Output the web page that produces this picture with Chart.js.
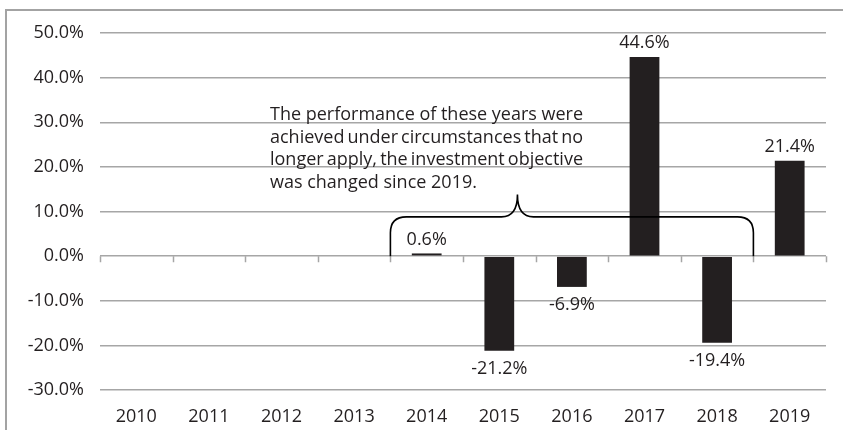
<!DOCTYPE html>
<html>
<head>
<meta charset="utf-8">
<script src="https://cdn.jsdelivr.net/npm/chart.js@4/dist/chart.umd.min.js"></script>
<style>
  html, body { margin: 0; padding: 0; background: #fff; }
  #frame {
    position: absolute; left: 5px; top: 9px; right: 0; bottom: 0;
    border-top: 2px solid #a3a3a3; border-left: 2px solid #a3a3a3;
  }
  #wrap { position: absolute; left: 0; top: 0; width: 843px; height: 430px; }
</style>
</head>
<body>
<div id="frame"></div>
<div id="wrap"><canvas id="perf-chart" width="843" height="430"></canvas></div>
<script>
// --- dados ---
const years = ['2010', '2011', '2012', '2013', '2014', '2015', '2016', '2017', '2018', '2019'];
const returns = [null, null, null, null, 0.6, -21.2, -6.9, 44.6, -19.4, 21.4];
const yTicks = [-30, -20, -10, 0, 10, 20, 30, 40, 50];
const noteLines = [
  'The performance of these years were',
  'achieved under circumstances that no',
  'longer apply, the investment objective',
  'was changed since 2019.'
];
// brace spans from first to last of these years
const braceFrom = '2014';
const braceTo = '2018';

const textColor = '#231f20';
const gridColor = '#a6a6a6';
const barColor = '#231f20';
const font = '"Open Sans", sans-serif';

// rótulos dos valores
const valueLabels = {
  id: 'valueLabels',
  afterDatasetsDraw(chart) {
    const ctx = chart.ctx;
    const meta = chart.getDatasetMeta(0);
    ctx.save();
    ctx.fillStyle = textColor;
    ctx.font = '18px ' + font;
    ctx.textAlign = 'center';
    ctx.textBaseline = 'middle';
    meta.data.forEach((bar, i) => {
      const v = returns[i];
      if (v === null) return;
      const y = v >= 0 ? bar.y - 14 : bar.y + 18;
      ctx.fillText(v.toFixed(1) + '%', bar.x, y);
    });
    ctx.restore();
  }
};

// marcas do eixo x na linha do zero
const zeroTicks = {
  id: 'zeroTicks',
  afterDraw(chart) {
    const ctx = chart.ctx;
    const x = chart.scales.x, y = chart.scales.y;
    const y0 = y.getPixelForValue(0);
    const half = (x.getPixelForValue(1) - x.getPixelForValue(0)) / 2;
    ctx.save();
    ctx.strokeStyle = gridColor;
    ctx.lineWidth = 1.5;
    ctx.beginPath();
    for (let i = 0; i <= years.length; i++) {
      const px = Math.round(x.getPixelForValue(i) - half) + 0.5;
      ctx.moveTo(px, y0);
      ctx.lineTo(px, y0 + 6);
    }
    ctx.stroke();
    ctx.restore();
  }
};

function drawJustified(ctx, text, x, y, width, justify) {
  const words = text.split(' ');
  if (!justify || words.length < 2) {
    ctx.fillText(text, x, y);
    return;
  }
  const total = words.reduce((s, w) => s + ctx.measureText(w).width, 0);
  const gap = (width - total) / (words.length - 1);
  let cx = x;
  words.forEach(w => {
    ctx.fillText(w, cx, y);
    cx += ctx.measureText(w).width + gap;
  });
}

// chave e nota
const braceNote = {
  id: 'braceNote',
  afterDraw(chart) {
    const ctx = chart.ctx;
    const x = chart.scales.x, y = chart.scales.y;
    const half = (x.getPixelForValue(1) - x.getPixelForValue(0)) / 2;
    const left = x.getPixelForValue(years.indexOf(braceFrom)) - half;
    const right = x.getPixelForValue(years.indexOf(braceTo)) + half;
    const bottom = y.getPixelForValue(0);
    const top = y.getPixelForValue(8.8);
    const peakY = y.getPixelForValue(13.8);
    const peakX = left + (right - left) * 0.35;
    const r = 16;

    ctx.save();
    ctx.strokeStyle = '#000';
    ctx.lineWidth = 1.6;
    ctx.beginPath();
    ctx.moveTo(left, bottom);
    ctx.lineTo(left, top + r);
    ctx.quadraticCurveTo(left, top, left + r, top);
    ctx.lineTo(peakX - r, top);
    ctx.quadraticCurveTo(peakX, top, peakX, peakY);
    ctx.quadraticCurveTo(peakX, top, peakX + r, top);
    ctx.lineTo(right - r, top);
    ctx.quadraticCurveTo(right, top, right, top + r);
    ctx.lineTo(right, bottom);
    ctx.stroke();

    ctx.fillStyle = textColor;
    ctx.font = '18px ' + font;
    ctx.textAlign = 'left';
    ctx.textBaseline = 'alphabetic';
    const tx = 270, tw = 313;
    noteLines.forEach((line, i) => {
      drawJustified(ctx, line, tx, 120 + i * 22.5, tw, i < noteLines.length - 1);
    });
    ctx.restore();
  }
};

const ctx = document.getElementById('perf-chart').getContext('2d');
new Chart(ctx, {
  type: 'bar',
  data: {
    labels: years,
    datasets: [{
      data: returns,
      backgroundColor: barColor,
      borderWidth: 0,
      barPercentage: 0.41,
      categoryPercentage: 1.0
    }]
  },
  options: {
    responsive: false,
    animation: false,
    events: [],
    layout: { padding: { top: 33, right: 17, bottom: 0, left: 0 } },
    plugins: { legend: { display: false }, tooltip: { enabled: false } },
    scales: {
      x: {
        grid: { display: false },
        border: { display: false },
        ticks: { color: textColor, font: { family: font, size: 18 }, padding: 8, maxRotation: 0 },
        afterFit: s => { s.height = 40; }
      },
      y: {
        min: -30,
        max: 50,
        afterBuildTicks: s => { s.ticks = yTicks.map(v => ({ value: v })); },
        grid: { color: gridColor, lineWidth: 1.5, drawTicks: false },
        border: { display: false },
        ticks: {
          color: textColor,
          font: { family: font, size: 18 },
          padding: 16,
          callback: v => v.toFixed(1) + '%'
        },
        afterFit: s => { s.width = 100; }
      }
    }
  },
  plugins: [valueLabels, zeroTicks, braceNote]
});
</script>
</body>
</html>
